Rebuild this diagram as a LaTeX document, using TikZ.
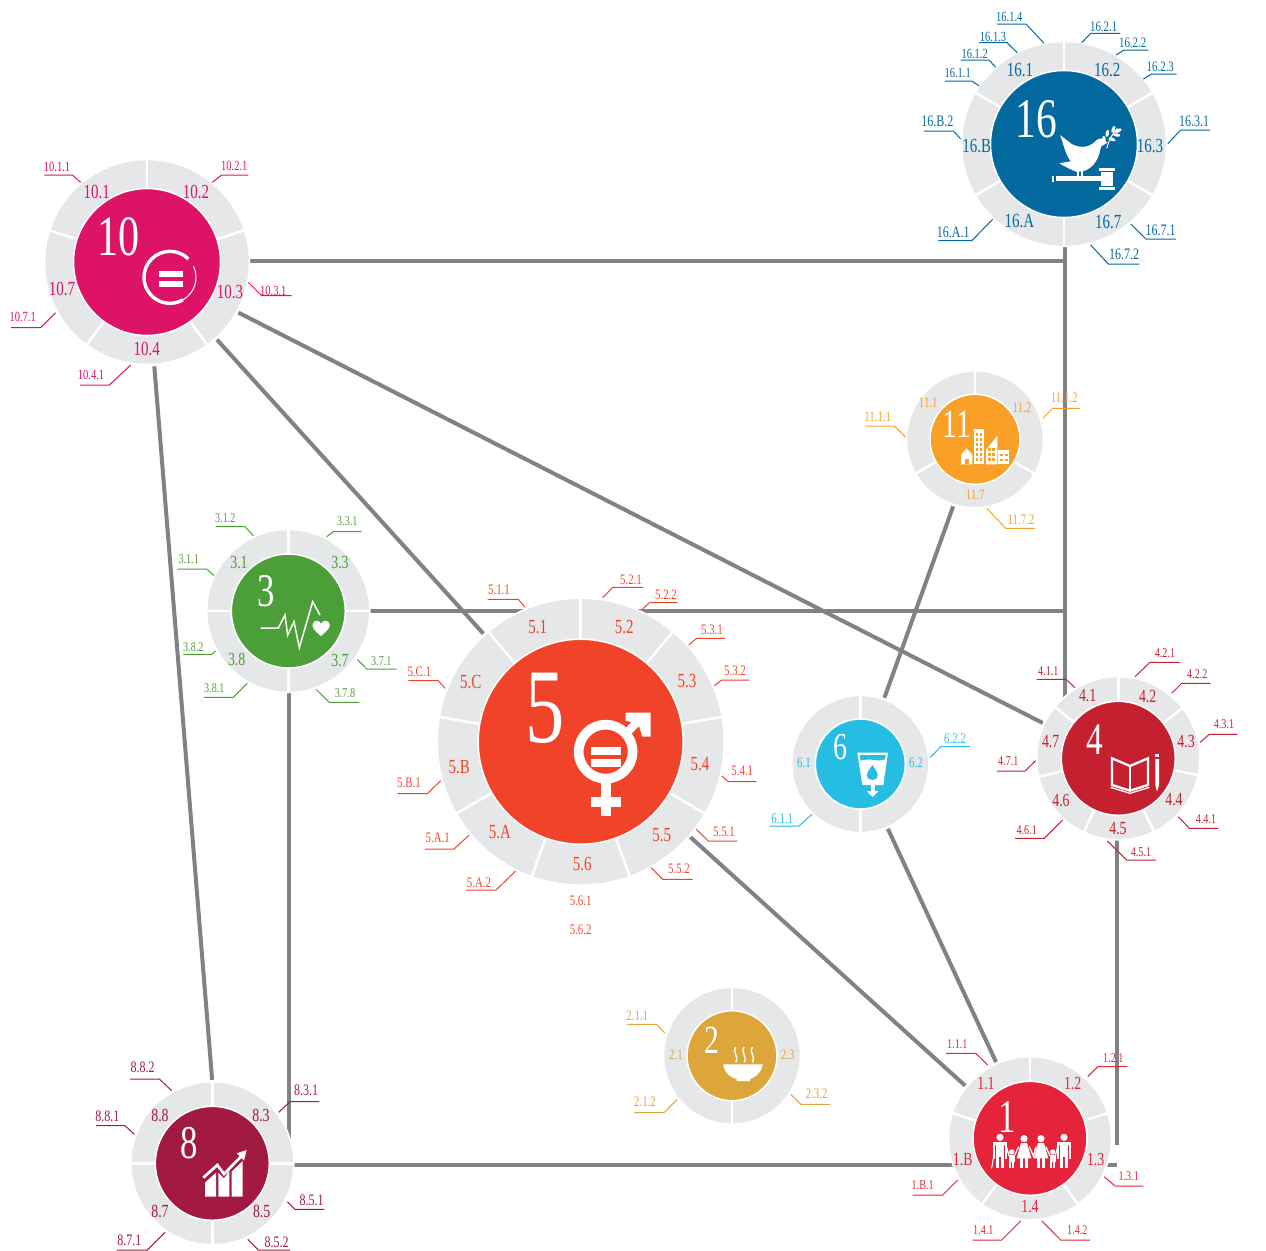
\documentclass[tikz,border=0pt]{standalone}
\usepackage{fontspec}
\newfontfamily\condf[FakeStretch=0.75]{Liberation Serif}
\newfontfamily\bigf[FakeStretch=0.74]{Liberation Serif}
\definecolor{ringgrey}{HTML}{E6E7E8}
\definecolor{connc}{HTML}{808285}
\definecolor{sdgi}{HTML}{E5243B}
\definecolor{sdgii}{HTML}{DDA63A}
\definecolor{sdgiii}{HTML}{4C9F38}
\definecolor{sdgiv}{HTML}{C5202F}
\definecolor{sdgv}{HTML}{F1432A}
\definecolor{sdgvi}{HTML}{26BDE2}
\definecolor{sdgviii}{HTML}{A21942}
\definecolor{sdgx}{HTML}{DD1367}
\definecolor{sdgxi}{HTML}{FBA027}
\definecolor{sdgxvi}{HTML}{03699F}
\colorlet{gc}{black}
\pgfdeclarelayer{bg}
\pgfsetlayers{bg,main}
\newcounter{nn}
\def\rsz{20}
\def\ssz{14.5}
\tikzset{
 ringnode/.style={circle,fill=ringgrey,draw=white,line width=1.5pt,inner sep=0pt,outer sep=0pt},
 disknode/.style={circle,draw=white,line width=1.5pt,inner sep=0pt,outer sep=0pt},
 sepline/.style={draw=white,line width=2.5pt},
 conn/.style={draw=connc,line width=4pt,shorten <=2pt,shorten >=2pt},
 conntop/.style={draw=connc,line width=4pt},
 ringtext/.style={inner sep=0pt,text=gc,font=\condf\fontsize{\rsz}{\rsz}\selectfont},
 subtext/.style={inner sep=0pt,text=gc,font=\condf\fontsize{\ssz}{\ssz}\selectfont},
 leader/.style={draw=gc,line width=1pt},
 bignum/.style={inner sep=0pt,text=white},
 zm/.style n args={2}{shift={(#1,#2)},x=0.33333pt,y=-0.33333pt},
}
\newcommand\goal[7]{%
 \node[ringnode,minimum size=2*#4pt+1pt] (#1) at (#2,#3) {};
 \foreach \a in {#7} \draw[sepline] (#1.center) -- (#1.\a);
 \node[disknode,fill=#6,minimum size=2*#5pt+1pt] (#1d) at (#1.center) {};
 \colorlet{gc}{#6}%
}
\newcommand\bign[4]{\stepcounter{nn}\edef\nm{\arabic{nn}}%
 \node[bignum,font=\bigf\fontsize{#4}{#4}\selectfont] (b\nm) at (#2,#3) {#1};}
\newcommand\rl[3]{\stepcounter{nn}\edef\nm{\arabic{nn}}%
 \node[ringtext] (t\nm) at (#2,#3) {#1};}
% text, tx, ty, far x, elbow x, underline y, ring end x, ring end y
\newcommand\sublab[8]{\stepcounter{nn}\edef\nm{\arabic{nn}}%
 \node[subtext] (s\nm) at (#2,#3) {#1};
 \coordinate (u\nm) at (#4,#6);
 \coordinate (e\nm) at (#5,#6);
 \coordinate (r\nm) at (#7,#8);
 \draw[leader] (u\nm) -- (e\nm) -- (r\nm);}
\newcommand\maleicon[1]{%
 \fill[white] (#1,322) circle[radius=3.6pt];
 \fill[white] (#1-21,337) rectangle (#1+21,345);
 \fill[white] (#1-21,337) rectangle (#1-15,388);
 \fill[white] (#1+15,337) rectangle (#1+21,388);
 \fill[white] (#1-12,337) rectangle (#1+12,382);
 \fill[white] (#1-12,380) rectangle (#1-2,415);
 \fill[white] (#1+2,380) rectangle (#1+12,415);}
\newcommand\femaleicon[1]{%
 \fill[white] (#1,326) circle[radius=3.6pt];
 \fill[white] (#1-9,339) -- (#1+9,339) -- (#1+22,385) -- (#1-22,385) -- cycle;
 \fill[white] (#1-12,385) rectangle (#1-3,415);
 \fill[white] (#1+3,385) rectangle (#1+12,415);}
\newcommand\childicon[1]{%
 \fill[white] (#1,366) circle[radius=2.7pt];
 \fill[white] (#1-9,376) rectangle (#1+9,397);
 \fill[white] (#1-8,395) rectangle (#1-1,415);
 \fill[white] (#1+1,395) rectangle (#1+8,415);}
\begin{document}
\begin{tikzpicture}[x=1pt,y=-1pt]
\useasboundingbox (0,0) rectangle (1266,1250);

%---------------- goal 16
\goal{gxvi}{1064}{144}{102}{73}{sdgxvi}{90,30,-30,-90,210,150}
\bign{16}{1036}{119.3}{56}
\begin{scope}[zm={900}{0}]
 \fill[white] (480,405) -- (515,432) .. controls (545,447) and (570,442) .. (590,420) .. controls (600,412) and (612,415) .. (622,428) -- (603,440) .. controls (598,470) and (585,500) .. (555,512) -- (530,516) .. controls (515,510) and (495,500) .. (478,490) -- (512,484) .. controls (495,460) and (490,430) .. (480,405) -- cycle;
 \fill[white] (532,510) rectangle (537,530);
 \fill[white] (543,510) rectangle (548,530);
 \draw[white,line width=1pt] (620,445) -- (630,415) -- (652,385);
 \foreach \p/\q/\r in {622/400/80,640/388/70,655/392/30,650/405/-10,636/418/-20,612/418/100}
  \fill[white,shift={(\p,\q)},rotate=\r] (0,0) ellipse[x radius=3.6pt,y radius=1.7pt];
 \fill[white] (455,527) rectangle (463,545);
 \fill[white] (468,529) rectangle (605,543);
 \fill[white] (598,503) rectangle (646,512);
 \fill[white] (604,515) rectangle (640,557);
 \fill[white] (598,560) rectangle (646,570);
\end{scope}
\rl{16.1}{1020}{70}\rl{16.2}{1107.3}{70}\rl{16.3}{1150}{145.7}\rl{16.7}{1108.3}{221.7}\rl{16.A}{1019.3}{220.7}\rl{16.B}{976.7}{145.7}
\def\ssz{14}
\sublab{16.1.4}{1009.3}{17.3}{997}{1026}{24}{1044}{43.3}
\sublab{16.1.3}{993}{36.7}{979}{1007}{42.7}{1017.3}{52.7}
\sublab{16.1.2}{974.7}{54}{960.7}{989}{60}{995.7}{67.3}
\sublab{16.1.1}{957.7}{72.7}{945}{971.7}{81}{979.3}{86}
\def\ssz{14.5}
\sublab{16.2.1}{1103.7}{26.7}{1120}{1090.7}{33.3}{1081.7}{42.7}
\sublab{16.2.2}{1132.7}{43.3}{1148.3}{1124}{50}{1116}{55}
\sublab{16.2.3}{1160.3}{67}{1176.7}{1151.7}{74}{1143.3}{79}
\def\ssz{16}
\sublab{16.3.1}{1194}{121.7}{1210}{1180.7}{130}{1167.7}{143.7}
\sublab{16.7.1}{1160.7}{230}{1176}{1146}{239}{1130.7}{224}
\sublab{16.7.2}{1124}{254}{1139.3}{1108.3}{264}{1090.7}{245}
\sublab{16.A.1}{953.3}{232}{938.3}{971.7}{240.7}{992.7}{219.3}
\sublab{16.B.2}{937.3}{121.7}{924}{953.3}{131}{960.7}{139}

%---------------- goal 10
\goal{gx}{147}{262}{102}{73}{sdgx}{90,18,-54,-126,162}
\bign{10}{118.3}{237.3}{57}
\begin{scope}[zm={0}{150}]
 \coordinate (iconx) at (510,382);
 \draw[white,line width=3.4pt] (iconx) ++(45:26pt) arc[start angle=45,end angle=300,radius=26pt];
 \draw[white,line width=1pt] (iconx) ++(300:26pt) arc[start angle=300,end angle=385,radius=26pt];
 \fill[white] (478,362) rectangle (550,380);
 \fill[white] (478,392) rectangle (550,410);
\end{scope}
\def\rsz{20}
\rl{10.1}{96.7}{192.3}\rl{10.2}{196}{192.3}\rl{10.3}{230}{291.7}\rl{10.4}{146.7}{349}\rl{10.7}{62}{289}
\def\ssz{14}
\sublab{10.1.1}{57}{166.7}{44.3}{72.3}{175}{80.7}{182.3}
\sublab{10.2.1}{234.3}{166}{248.3}{221.7}{175}{212.3}{182.3}
\sublab{10.3.1}{273.3}{290.7}{291.7}{261.7}{295.7}{248.3}{282.3}
\sublab{10.4.1}{91}{375}{80}{109.3}{385}{130.7}{365}
\sublab{10.7.1}{22.7}{317.3}{11}{40.7}{327.7}{55.7}{312.7}

%---------------- goal 5
\goal{gv}{580.7}{741.7}{143}{102}{sdgv}{90,50,10,-30,-70,-110,-150,170,130}
\bign{5}{545.3}{708.3}{106}
\begin{scope}[zm={390}{570}]
 \coordinate (iconv) at (647,545);
 \draw[white,line width=9.7pt] (iconv) circle[radius=27pt];
 \fill[white] (603,530) rectangle (692,555);
 \fill[white] (603,568) rectangle (692,590);
 \draw[white,line width=8pt] (708,490) -- (755,443);
 \fill[white] (707,428) -- (782,428) -- (782,500) -- (757,500) -- (745,462) -- (707,452) -- cycle;
 \fill[white] (633,635) rectangle (662,737);
 \fill[white] (603,682) rectangle (692,710);
\end{scope}
\rl{5.1}{537.7}{627.3}\rl{5.2}{624.3}{627.3}\rl{5.3}{687}{680.7}\rl{5.4}{700}{764.3}\rl{5.5}{661.7}{835}\rl{5.6}{582.3}{864}\rl{5.A}{500}{832.3}\rl{5.B}{459.3}{766.7}\rl{5.C}{470.7}{682.3}
\def\ssz{14.5}
\sublab{5.1.1}{499}{590}{487.7}{518.3}{599.3}{525}{607.3}
\sublab{5.2.1}{631}{579.3}{643.3}{612.7}{587.3}{602.7}{597.7}
\sublab{5.2.2}{666}{595}{677.7}{649.3}{602.7}{641.7}{610}
\sublab{5.3.1}{712}{629.3}{725}{696.7}{638.3}{688.7}{645}
\sublab{5.3.2}{735}{671}{749.3}{721.7}{680}{714.3}{685.7}
\sublab{5.4.1}{742.3}{770.7}{756.7}{728.3}{781.7}{721.7}{776}
\sublab{5.5.1}{724}{832}{737.3}{708.3}{841}{696}{829}
\sublab{5.5.2}{679}{869}{692.7}{662.7}{879.3}{651}{867.7}
\sublab{5.A.1}{437.7}{838.3}{425}{454}{849}{469.3}{835}
\sublab{5.A.2}{479}{882.3}{466}{496}{890}{515.7}{871}
\sublab{5.B.1}{409}{783.3}{397.3}{427.3}{793.7}{440.7}{780.7}
\sublab{5.C.1}{419.3}{671.7}{408.3}{438.3}{680.7}{445}{688.3}
\node[subtext] (sfive1) at (580.7,901) {5.6.1};
\node[subtext] (sfive2) at (580.7,929.3) {5.6.2};

%---------------- goal 4
\goal{giv}{1118.3}{758.3}{81}{56.5}{sdgiv}{90,38.6,-12.9,-64.3,-115.7,-167.1,141.4}
\bign{4}{1095}{739.3}{45}
\begin{scope}[zm={1000}{640}]
 \draw[white,line width=2.3pt,line join=miter] (336,355) -- (390,378) -- (444,355) -- (444,435) -- (390,452) -- (336,435) -- cycle;
 \draw[white,line width=2.3pt] (390,378) -- (390,452);
 \draw[white,line width=1.3pt] (332,442) -- (390,460) -- (448,442);
 \fill[white] (466,343) rectangle (477,352);
 \fill[white] (466,357) -- (477,357) -- (477,436) -- (471,455) -- (466,436) -- cycle;
\end{scope}
\def\rsz{18.5}
\rl{4.1}{1087.7}{696}\rl{4.2}{1147.7}{696}\rl{4.3}{1186}{741.7}\rl{4.4}{1174}{800}\rl{4.5}{1118}{828.3}\rl{4.6}{1061}{800.7}\rl{4.7}{1050.7}{741.7}
\def\ssz{13.5}
\sublab{4.1.1}{1048.3}{670.7}{1036.7}{1066}{679.3}{1075}{687.7}
\sublab{4.2.1}{1165}{653.3}{1180}{1150}{662.3}{1135}{676.7}
\sublab{4.2.2}{1197.3}{674.3}{1210.7}{1181.7}{683.3}{1171.7}{693.3}
\sublab{4.3.1}{1224}{724}{1237.3}{1209.3}{734.3}{1200}{742.3}
\sublab{4.4.1}{1206}{819}{1218.3}{1189.3}{828.3}{1178.3}{816.7}
\sublab{4.5.1}{1141}{851.7}{1156}{1126.7}{860}{1107.3}{841}
\sublab{4.6.1}{1026.7}{830}{1015}{1044.3}{838.3}{1062.7}{820}
\sublab{4.7.1}{1008.3}{760.7}{997}{1025}{771}{1035.7}{760.7}

%---------------- goal 1
\goal{gi}{1030}{1138.3}{81}{56.5}{sdgi}{90,18,-54,-126,162}
\bign{1}{1007.3}{1117.3}{47}
\begin{scope}[zm={900}{1030}]
 \maleicon{300}\maleicon{492}\femaleicon{372}\femaleicon{423}\childicon{335}\childicon{458}
 \draw[white,line width=1pt] (281,378) -- (275,415);
 \draw[white,line width=1.2pt] (318,345) -- (327,378);
 \draw[white,line width=1.2pt] (343,378) -- (356,350);
 \draw[white,line width=1.2pt] (388,350) -- (400,378) -- (408,350);
 \draw[white,line width=1.2pt] (438,350) -- (450,378);
 \draw[white,line width=1.2pt] (466,378) -- (474,345);
\end{scope}
\rl{1.1}{986}{1083.3}\rl{1.2}{1072.7}{1083.3}\rl{1.3}{1095.7}{1159.3}\rl{1.4}{1030}{1206.7}\rl{1.B}{962.7}{1159.3}
\sublab{1.1.1}{957.3}{1044}{946}{975.7}{1053.3}{987.7}{1065}
\sublab{1.2.1}{1113.3}{1058.3}{1127.3}{1097.7}{1066.7}{1087.7}{1076.7}
\sublab{1.3.1}{1128.7}{1176}{1143.3}{1115}{1186}{1104.3}{1176.7}
\sublab{1.4.2}{1077.3}{1230}{1090}{1060.7}{1240}{1041.7}{1220.7}
\sublab{1.4.1}{983.3}{1230}{972.7}{1001.7}{1240}{1021}{1220.7}
\sublab{1.B.1}{922.7}{1185}{912.7}{942.7}{1195}{957.7}{1180}

%---------------- goal 8
\goal{gviii}{212.3}{1163.3}{81}{56.5}{sdgviii}{0,90,180,270}
\bign{8}{189.3}{1143.3}{47}
\begin{scope}[zm={90}{1050}]
 \fill[white] (345,440) -- (378,440) -- (378,368) -- (345,398) -- cycle;
 \fill[white] (385,440) -- (418,440) -- (418,362) -- (402,385) -- (385,368) -- cycle;
 \fill[white] (425,440) -- (458,440) -- (458,333) -- (425,365) -- cycle;
 \draw[white,line width=2.7pt] (340,383) -- (382,345) -- (402,372) -- (455,318);
 \fill[white] (440,310) -- (470,300) -- (462,332) -- cycle;
\end{scope}
\rl{8.3}{261}{1115}\rl{8.5}{261.7}{1211.7}\rl{8.7}{160}{1211.7}\rl{8.8}{160}{1115}
\def\ssz{16}
\sublab{8.8.2}{142.7}{1067.7}{130}{159.3}{1079}{171.7}{1090.7}
\sublab{8.8.1}{107.3}{1116}{96}{125}{1125.7}{134.3}{1134.3}
\sublab{8.3.1}{306}{1090.7}{319}{290}{1101.7}{278.7}{1112.3}
\sublab{8.5.1}{311.7}{1200.7}{324.3}{295}{1209.3}{287.3}{1201.7}
\sublab{8.5.2}{276.7}{1242.7}{290}{258.3}{1250}{247.7}{1239.3}
\sublab{8.7.1}{129.3}{1240}{116.7}{147.3}{1250}{165}{1232.3}

%---------------- goal 3
\goal{giii}{288.3}{611}{81}{56.5}{sdgiii}{0,90,180,270}
\bign{3}{265.7}{590.7}{47}
\begin{scope}[zm={170}{500}]
 \draw[white,line width=1.5pt,line join=miter] (272,384) -- (325,384) -- (345,345) -- (353,405) -- (372,365) -- (388,443) -- (428,305) -- (450,345);
 \fill[white] (453,408) .. controls (430,390) and (425,378) .. (428,372) .. controls (432,358) and (450,360) .. (453,372) .. controls (456,360) and (475,358) .. (479,372) .. controls (482,380) and (475,390) .. (453,408) -- cycle;
\end{scope}
\def\rsz{18.5}
\rl{3.1}{239}{562.7}\rl{3.3}{340}{562.7}\rl{3.7}{340}{660}\rl{3.8}{236.7}{659.3}
\def\ssz{13.5}
\sublab{3.1.2}{225.3}{517.7}{215.7}{245}{526.7}{253.3}{535.7}
\sublab{3.1.1}{188.7}{559.3}{177.3}{206.7}{569}{214}{575.7}
\sublab{3.3.1}{347.3}{521}{361.7}{333.3}{531.7}{326.7}{536.7}
\sublab{3.7.1}{381.3}{660.7}{396.7}{366.7}{669}{357.3}{659.3}
\sublab{3.7.8}{345}{693.3}{359}{329.3}{702.3}{316}{689.3}
\sublab{3.8.1}{214.3}{687.7}{204}{233.3}{697.3}{247.3}{683.3}
\sublab{3.8.2}{193.3}{647.3}{183.3}{211.7}{654.3}{215.7}{651}

%---------------- goal 11
\goal{gxi}{975}{439.3}{68}{44.5}{sdgxi}{90,-30,-150}
\bign{11}{956.7}{424.3}{40}
\begin{scope}[zm={860}{365}]
 \fill[white] (303,298) -- (303,270) -- (320,250) -- (337,270) -- (337,298) -- cycle;
 \fill[sdgxi] (314,283) rectangle (326,298);
 \fill[white] (342,193) rectangle (373,298);
 \fill[white] (378,298) -- (378,255) -- (412,213) -- (412,298) -- cycle;
 \fill[white] (415,255) rectangle (447,298);
 \foreach \yy in {205,220,235,250,265,280}
  \foreach \xx in {347,359} \fill[sdgxi] (\xx,\yy) rectangle +(8,8);
 \foreach \yy in {250,265,280}
  \foreach \xx in {383,397} \fill[sdgxi] (\xx,\yy) rectangle +(9,8);
 \foreach \yy in {266,281}
  \foreach \xx in {420,434} \fill[sdgxi] (\xx,\yy) rectangle +(9,7);
\end{scope}
\def\rsz{14.5}
\rl{11.1}{928.3}{402.7}\rl{11.2}{1022}{407.7}\rl{11.7}{975.3}{495}
\def\ssz{14.5}
\sublab{11.1.2}{1064.3}{397.7}{1080}{1052.7}{408.3}{1042.7}{418.3}
\sublab{11.1.1}{877.7}{416.7}{865}{894.3}{426}{905.7}{437.3}
\sublab{11.7.2}{1021}{520}{1035}{1005.7}{528.3}{986.7}{508.3}

%---------------- goal 6
\goal{gvi}{860.3}{764}{68}{44.5}{sdgvi}{90,-90}
\bign{6}{841}{747.3}{38}
\begin{scope}[zm={765}{690}]
 \fill[white] (277,188) -- (369,188) -- (355,285) -- (292,285) -- cycle;
 \fill[sdgvi] (284,195) -- (362,195) -- (360,208) .. controls (340,218) and (320,202) .. (287,212) -- cycle;
 \fill[sdgvi] (322,225) .. controls (312,240) and (306,248) .. (306,255) .. controls (306,275) and (338,275) .. (338,255) .. controls (338,248) and (332,240) .. (322,225) -- cycle;
 \fill[white] (317,285) rectangle (329,305);
 \fill[white] (305,303) -- (341,303) -- (323,321) -- cycle;
\end{scope}
\rl{6.1}{804}{762.3}\rl{6.2}{916}{762.3}
\sublab{6.2.2}{955}{738.3}{970}{940.7}{746.7}{930}{757.7}
\sublab{6.1.1}{782.3}{819}{769.3}{799}{826}{812.3}{814}

%---------------- goal 2
\goal{gii}{732}{1055.7}{68}{44.5}{sdgii}{90,-90}
\bign{2}{712.3}{1040}{40}
\begin{scope}[zm={620}{985}]
 \fill[white] (310,238) -- (428,238) .. controls (425,265) and (400,280) .. (390,282) -- (390,288) -- (350,288) -- (350,282) .. controls (335,280) and (313,265) .. (310,238) -- cycle;
 \foreach \xx in {347,372,397}
  \draw[white,line width=1.4pt] (\xx,186) .. controls (\xx-12,200) and (\xx+12,215) .. (\xx,232);
\end{scope}
\rl{2.1}{676}{1054.3}\rl{2.3}{787.7}{1054.3}
\sublab{2.1.1}{637.3}{1015.7}{627.3}{656.7}{1024.3}{665}{1033.3}
\sublab{2.1.2}{645}{1101.7}{634.3}{664}{1112.7}{677.3}{1099.3}
\sublab{2.3.2}{816.7}{1094}{830}{801}{1104.3}{790.7}{1094.3}

%---------------- connectors (behind everything)
\coordinate (jiva) at (1117,1145);
\coordinate (jivb) at (1117,1164.5);
\coordinate (jtop) at (1064.5,261);
\coordinate (jvert) at (289,1135);
\begin{pgfonlayer}{bg}
 \draw[conntop] (gx.0 |- jtop) -- (jtop);
 \draw[conntop] (jtop |- gxvi.south) -- (jtop |- giv.center);
 \draw[conn] (gx.-48.9) -- (gv.132.2);
 \draw[conn] (gx.-29.5) -- (giv.155.8);
 \draw[conn] (gx.-86.7) -- (gviii.90.4);
 \draw[conntop] (giii.0) -- (giii.0 -| jtop);
 \draw[conntop] (jvert |- giii.south) -- (jvert |- gviii.center);
 \draw[conntop] (gviii.0 |- jivb) -- (jivb);
 \draw[conntop] (jiva |- giv.south) -- (jiva);
 \draw[conn] (gv.-41.9) -- (gi.141.7);
 \draw[conn] (gvi.-67.7) -- (gi.114.2);
 \draw[conn] (gxi.252.8) -- (gvi.70.5);
\end{pgfonlayer}
\end{tikzpicture}
\end{document}
